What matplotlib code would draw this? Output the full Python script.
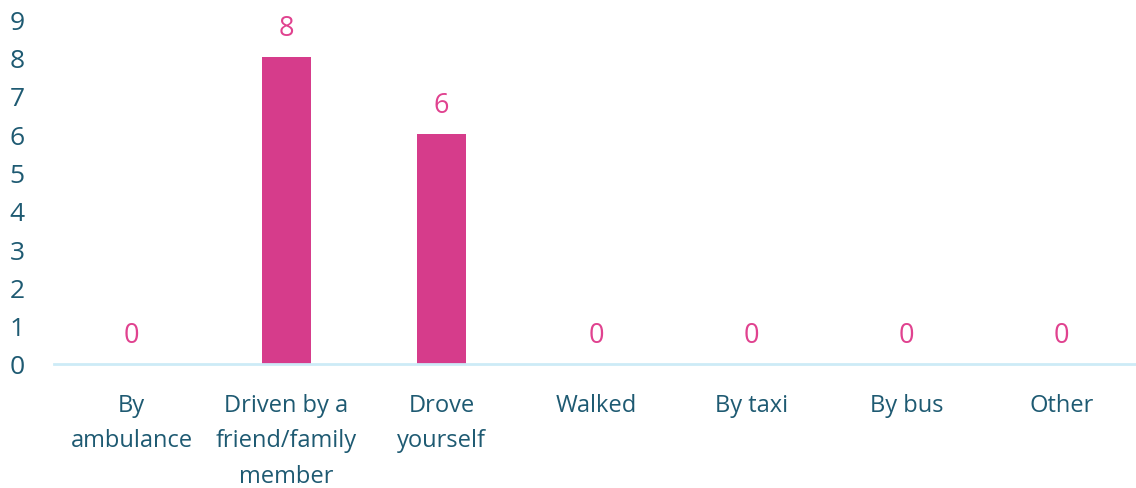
import matplotlib.pyplot as plt

# How patients got to hospital
categories = ["By\nambulance", "Driven by a\nfriend/family\nmember", "Drove\nyourself",
              "Walked", "By taxi", "By bus", "Other"]
counts = [0, 8, 6, 0, 0, 0, 0]
yticks = list(range(10))

bar_colour = "#D63C8B"
label_colour = "#E0428F"
text_colour = "#1E5A72"
axis_colour = "#CDEBF7"

plt.rcParams["font.family"] = ["Open Sans", "DejaVu Sans"]

fig = plt.figure(figsize=(11.36, 4.89), dpi=100)
ax = fig.add_axes([0.0475, 0.2536, 0.955, 0.7054])

x = range(len(categories))
bars = ax.bar(x, counts, width=0.32, color=bar_colour)

for xi, v in zip(x, counts):
    ax.annotate(str(v), (xi, v), xytext=(0, 21), textcoords="offset points",
                ha="center", va="center", fontsize=19.5, color=label_colour)

ax.set_xlim(-0.5, len(categories) - 0.5)
ax.set_ylim(0, 9)
ax.set_yticks(yticks)
ax.set_xticks(list(x))
ax.set_xticklabels(categories, fontsize=17, color=text_colour, linespacing=1.63, va="top")
ax.tick_params(axis="x", length=0, pad=21)
ax.tick_params(axis="y", length=0, pad=21, labelsize=19, labelcolor=text_colour)

for side in ["top", "right", "left"]:
    ax.spines[side].set_visible(False)
ax.spines["bottom"].set_color(axis_colour)
ax.spines["bottom"].set_linewidth(2)

fig.savefig("out.png", dpi=100)
